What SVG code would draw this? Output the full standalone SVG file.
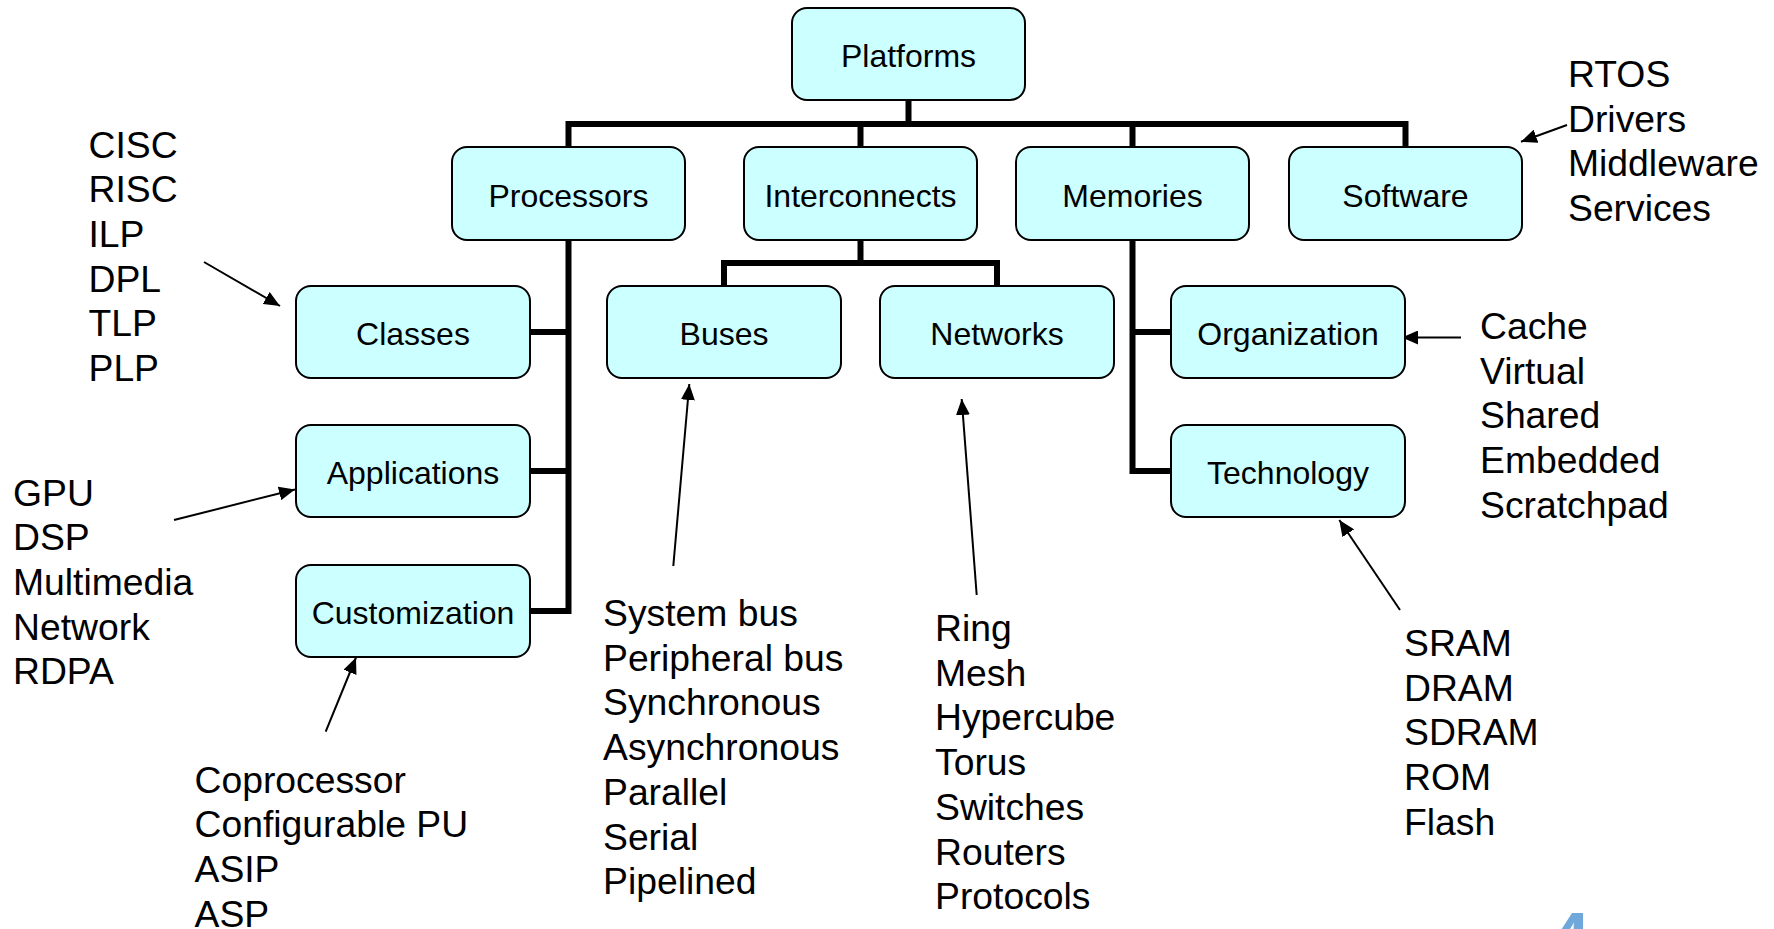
<svg xmlns="http://www.w3.org/2000/svg" width="1774" height="929" viewBox="0 0 1774 929">
<style>
.box{fill:#CCFFFF;stroke:#000;stroke-width:2}
.lbl{font-family:"Liberation Sans",Arial,sans-serif;font-size:32px;fill:#000;text-anchor:middle}
.lst{font-family:"Liberation Sans",Arial,sans-serif;font-size:37.3px;fill:#000}
.tree{fill:none;stroke:#000;stroke-width:6;stroke-linejoin:miter;stroke-linecap:butt}
.arr{fill:none;stroke:#000;stroke-width:2;marker-end:url(#ah)}
</style>
<defs>
<marker id="ah" markerUnits="userSpaceOnUse" markerWidth="16" markerHeight="14" viewBox="0 0 16 14" refX="16" refY="7" orient="auto">
<path d="M0,0 L16,7 L0,14 z" fill="#000"/>
</marker>
</defs>
<rect width="1774" height="929" fill="#fff"/>
<g id="connectors">
<path class="tree" d="M908.5,100 V124"/>
<path class="tree" d="M568.5,147 V124 H1405.5 V147"/>
<path class="tree" d="M860.5,124 V147"/>
<path class="tree" d="M1132.5,124 V147"/>
<path class="tree" d="M568.5,240 V611 H530"/>
<path class="tree" d="M530,332 H568.5"/>
<path class="tree" d="M530,471 H568.5"/>
<path class="tree" d="M860.5,240 V263"/>
<path class="tree" d="M724,286 V263 H997 V286"/>
<path class="tree" d="M1132.5,240 V471 H1171"/>
<path class="tree" d="M1132.5,332 H1171"/>
<line class="arr" x1="204" y1="262" x2="280" y2="306"/>
<line class="arr" x1="174" y1="520" x2="295" y2="489.5"/>
<line class="arr" x1="325.7" y1="731.7" x2="356" y2="657.5"/>
<line class="arr" x1="673.3" y1="566" x2="689.3" y2="384"/>
<line class="arr" x1="976.7" y1="595" x2="961.7" y2="399"/>
<line class="arr" x1="1400" y1="610" x2="1339.3" y2="520"/>
<line class="arr" x1="1461" y1="337.5" x2="1402" y2="337.5"/>
<line class="arr" x1="1567" y1="125" x2="1521" y2="141.7"/>
</g>
<g id="platforms"><rect class="box" x="792" y="8" width="233" height="92" rx="15"/><text class="lbl" x="908.5" y="67">Platforms</text></g>
<g id="processors"><rect class="box" x="452" y="147" width="233" height="93" rx="15"/><text class="lbl" x="568.5" y="206.5">Processors</text></g>
<g id="interconnects"><rect class="box" x="744" y="147" width="233" height="93" rx="15"/><text class="lbl" x="860.5" y="206.5">Interconnects</text></g>
<g id="memories"><rect class="box" x="1016" y="147" width="233" height="93" rx="15"/><text class="lbl" x="1132.5" y="206.5">Memories</text></g>
<g id="software"><rect class="box" x="1289" y="147" width="233" height="93" rx="15"/><text class="lbl" x="1405.5" y="206.5">Software</text></g>
<g id="classes"><rect class="box" x="296" y="286" width="234" height="92" rx="15"/><text class="lbl" x="413" y="344.5">Classes</text></g>
<g id="buses"><rect class="box" x="607" y="286" width="234" height="92" rx="15"/><text class="lbl" x="724" y="344.5">Buses</text></g>
<g id="networks"><rect class="box" x="880" y="286" width="234" height="92" rx="15"/><text class="lbl" x="997" y="344.5">Networks</text></g>
<g id="organization"><rect class="box" x="1171" y="286" width="234" height="92" rx="15"/><text class="lbl" x="1288" y="344.5">Organization</text></g>
<g id="applications"><rect class="box" x="296" y="425" width="234" height="92" rx="15"/><text class="lbl" x="413" y="483.5">Applications</text></g>
<g id="technology"><rect class="box" x="1171" y="425" width="234" height="92" rx="15"/><text class="lbl" x="1288" y="483.5">Technology</text></g>
<g id="customization"><rect class="box" x="296" y="565" width="234" height="92" rx="15"/><text class="lbl" x="413" y="623.5">Customization</text></g>
<g id="list-classes"><text class="lst">
<tspan x="88.5" y="157.5">CISC</tspan><tspan x="88.5" y="202.2">RISC</tspan><tspan x="88.5" y="246.9">ILP</tspan><tspan x="88.5" y="291.6">DPL</tspan><tspan x="88.5" y="336.3">TLP</tspan><tspan x="88.5" y="381">PLP</tspan></text></g>
<g id="list-applications"><text class="lst">
<tspan x="13" y="505.5">GPU</tspan><tspan x="13" y="550.2">DSP</tspan><tspan x="13" y="594.9">Multimedia</tspan><tspan x="13" y="639.6">Network</tspan><tspan x="13" y="684.3">RDPA</tspan></text></g>
<g id="list-customization"><text class="lst">
<tspan x="194.5" y="792.5">Coprocessor</tspan><tspan x="194.5" y="837.2">Configurable PU</tspan><tspan x="194.5" y="881.9">ASIP</tspan><tspan x="194.5" y="926.6">ASP</tspan></text></g>
<g id="list-buses"><text class="lst">
<tspan x="603" y="626">System bus</tspan><tspan x="603" y="670.7">Peripheral bus</tspan><tspan x="603" y="715.4">Synchronous</tspan><tspan x="603" y="760.1">Asynchronous</tspan><tspan x="603" y="804.8">Parallel</tspan><tspan x="603" y="849.5">Serial</tspan><tspan x="603" y="894.2">Pipelined</tspan></text></g>
<g id="list-networks"><text class="lst">
<tspan x="935" y="641">Ring</tspan><tspan x="935" y="685.7">Mesh</tspan><tspan x="935" y="730.4">Hypercube</tspan><tspan x="935" y="775.1">Torus</tspan><tspan x="935" y="819.8">Switches</tspan><tspan x="935" y="864.5">Routers</tspan><tspan x="935" y="909.2">Protocols</tspan></text></g>
<g id="list-technology"><text class="lst">
<tspan x="1404" y="656">SRAM</tspan><tspan x="1404" y="700.7">DRAM</tspan><tspan x="1404" y="745.4">SDRAM</tspan><tspan x="1404" y="790.1">ROM</tspan><tspan x="1404" y="834.8">Flash</tspan></text></g>
<g id="list-organization"><text class="lst">
<tspan x="1480" y="339">Cache</tspan><tspan x="1480" y="383.7">Virtual</tspan><tspan x="1480" y="428.4">Shared</tspan><tspan x="1480" y="473.1">Embedded</tspan><tspan x="1480" y="517.8">Scratchpad</tspan></text></g>
<g id="list-software"><text class="lst">
<tspan x="1568" y="87">RTOS</tspan><tspan x="1568" y="131.7">Drivers</tspan><tspan x="1568" y="176.4">Middleware</tspan><tspan x="1568" y="221.1">Services</tspan></text></g>
<g id="page-number"><text x="1550" y="963" font-family="'Liberation Sans',Arial,sans-serif" font-weight="bold" font-size="72" fill="#70A8DC">4</text></g>
</svg>
